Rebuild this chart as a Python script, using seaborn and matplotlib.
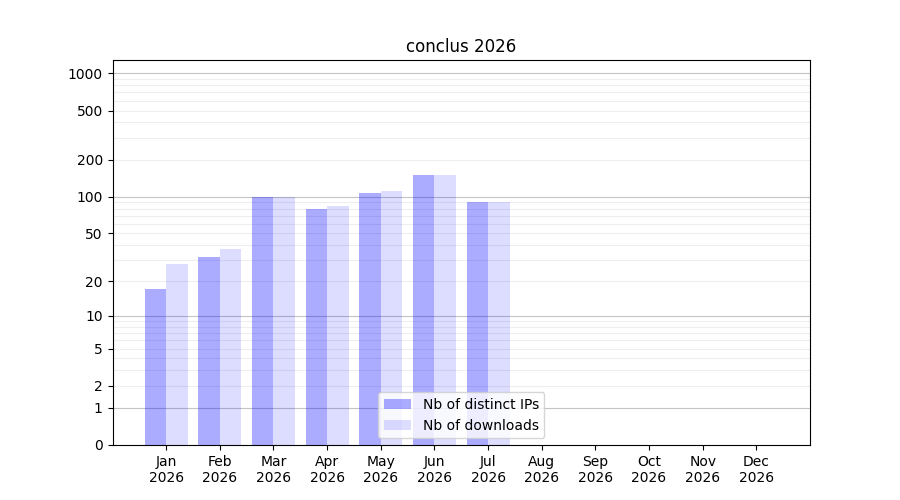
import numpy as np
import pandas as pd
import matplotlib
matplotlib.use("Agg")
import matplotlib.pyplot as plt
from matplotlib.ticker import FixedLocator, NullLocator
from matplotlib.patches import Patch
import seaborn as sns

months = ["Jan", "Feb", "Mar", "Apr", "May", "Jun", "Jul", "Aug", "Sep", "Oct", "Nov", "Dec"]
year = "2026"
data_months = ["Jan", "Feb", "Mar", "Apr", "May", "Jun", "Jul"]
distinct_ips = [17, 32, 99, 79, 107, 150, 90]
downloads = [28, 37, 100, 84, 111, 150, 90]
series_names = ["Nb of distinct IPs", "Nb of downloads"]
ytick_values = [0, 1, 2, 5, 10, 20, 50, 100, 200, 500, 1000]
title = "conclus 2026"

labels = [f"{m}\n{year}" for m in months]
df = pd.DataFrame({
    "month": [f"{m}\n{year}" for m in data_months] * 2,
    "value": distinct_ips + downloads,
    "series": [series_names[0]] * len(data_months) + [series_names[1]] * len(data_months),
})

fig, ax = plt.subplots(figsize=(9, 5), dpi=100)
fig.subplots_adjust(left=0.125, right=0.9, top=0.88, bottom=0.11)

ax.set_yscale("function", functions=(lambda v: np.log10(1 + np.maximum(v, 0)),
                                      lambda t: 10 ** t - 1))

sns.barplot(data=df, x="month", y="value", hue="series", order=labels,
            hue_order=series_names, palette=["#0000ff", "#0000ff"],
            saturation=1, width=0.8, linewidth=0, ax=ax, legend=False, zorder=2)

alphas = [0.33, 0.135]
for cont, a in zip(ax.containers, alphas):
    for p in cont:
        p.set_facecolor((0, 0, 1, a))

# grid lines
minor_vals = []
for d in [1, 10, 100, 1000]:
    for k in range(2, 10):
        minor_vals.append(k * d)
for v in minor_vals:
    ax.axhline(v, color="#eeeeee", linewidth=0.8, zorder=1)
for v in [1, 10, 100, 1000]:
    ax.axhline(v, color="#c4c4c4", linewidth=0.8, zorder=1)

ax.set_xlim(-1, 12)
ax.set_ylim(0, 1280)
ax.yaxis.set_major_locator(FixedLocator(ytick_values))
ax.set_yticklabels([str(v) for v in ytick_values])
ax.yaxis.set_minor_locator(NullLocator())
ax.tick_params(axis="y", which="minor", length=0)
ax.set_xticks(range(len(labels)))
ax.set_xticklabels(labels)
ax.set_xlabel("")
ax.set_ylabel("")
ax.set_title(title)

handles = [Patch(facecolor=(0, 0, 1, alphas[0])), Patch(facecolor=(0, 0, 1, alphas[1]))]
ax.legend(handles, series_names, loc="lower center")

fig.savefig("out.png", dpi=100)
